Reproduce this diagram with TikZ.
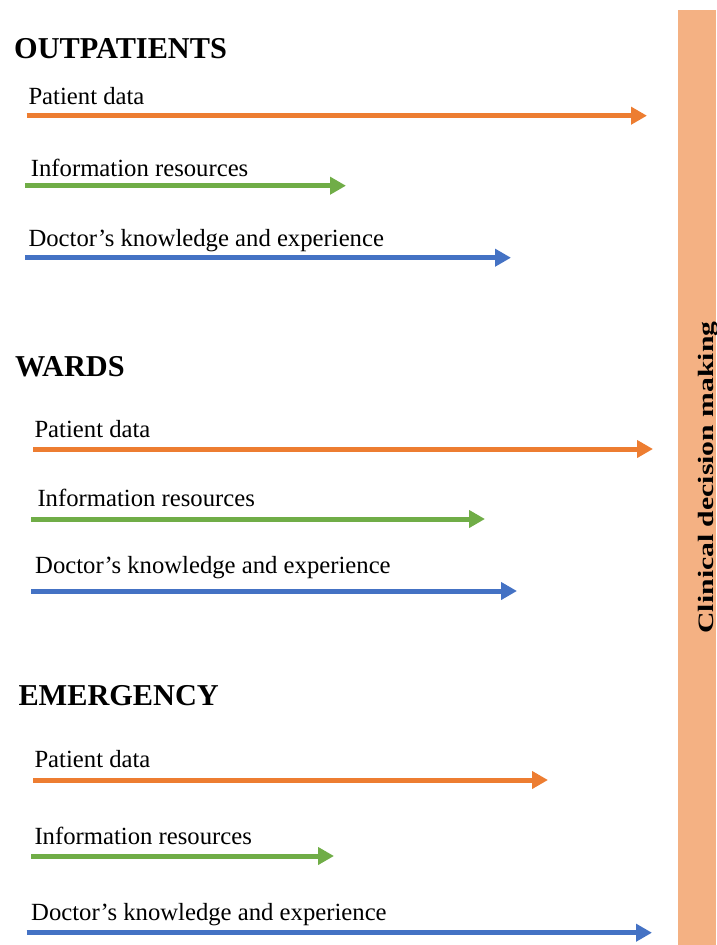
\documentclass[tikz,border=0pt]{standalone}
\usepackage{fontspec}
\setmainfont{Liberation Serif}
\usetikzlibrary{arrows.meta}
\definecolor{pdorange}{HTML}{ED7D31}
\definecolor{irgreen}{HTML}{70AD47}
\definecolor{dkblue}{HTML}{4472C4}
\definecolor{barfill}{HTML}{F4B183}
\tikzset{>={Triangle[length=16pt,width=17pt]}}

\begin{document}
\begin{tikzpicture}[x=1pt, y=-1pt,
    head/.style={anchor=base west, inner sep=0pt, font=\fontsize{30.3}{33}\selectfont\bfseries},
    lbl/.style={anchor=base west, inner sep=0pt, font=\fontsize{24.7}{28}\selectfont},
    flow/.style={line width=5pt, ->}]
    \useasboundingbox (0,0) rectangle (716,945);
    \fill[barfill] (678,10) rectangle (716,945);
    \node[anchor=base, rotate=90, inner sep=0pt,
        font=\fontsize{22}{24}\selectfont\bfseries] (cdm) at (713,477.5)
        {\scalebox{1.35}[1]{Clinical decision making}};

    % outpatients
    \node[head] (op) at (14,58.3) {OUTPATIENTS};
    \node[lbl] (op-pd) at (28.3,104) {Patient data};
    \node[lbl] (op-ir) at (30.7,176) {Information resources};
    \node[lbl] (op-dk) at (28.3,246.7) {Doctor’s knowledge and experience};
    \coordinate (op-pd-s) at (26.7,115.7);
    \coordinate (op-pd-e) at (647,115.7);
    \coordinate (op-ir-s) at (25,185.7);
    \coordinate (op-ir-e) at (346,185.7);
    \coordinate (op-dk-s) at (25,257.7);
    \coordinate (op-dk-e) at (511,257.7);
    \draw[flow, pdorange] (op-pd-s) -- (op-pd-e);
    \draw[flow, irgreen] (op-ir-s) -- (op-ir-e);
    \draw[flow, dkblue] (op-dk-s) -- (op-dk-e);

    % wards
    \node[head] (wd) at (15,376) {WARDS};
    \node[lbl] (wd-pd) at (34.3,437.3) {Patient data};
    \node[lbl] (wd-ir) at (37.3,506.7) {Information resources};
    \node[lbl] (wd-dk) at (35,573.3) {Doctor’s knowledge and experience};
    \coordinate (wd-pd-s) at (33.3,449);
    \coordinate (wd-pd-e) at (653,449);
    \coordinate (wd-ir-s) at (31,519);
    \coordinate (wd-ir-e) at (485,519);
    \coordinate (wd-dk-s) at (31,591);
    \coordinate (wd-dk-e) at (517,591);
    \draw[flow, pdorange] (wd-pd-s) -- (wd-pd-e);
    \draw[flow, irgreen] (wd-ir-s) -- (wd-ir-e);
    \draw[flow, dkblue] (wd-dk-s) -- (wd-dk-e);

    % emergency
    \node[head] (em) at (18.3,705.7) {EMERGENCY};
    \node[lbl] (em-pd) at (34.3,767.7) {Patient data};
    \node[lbl] (em-ir) at (34.3,844) {Information resources};
    \node[lbl] (em-dk) at (31,920) {Doctor’s knowledge and experience};
    \coordinate (em-pd-s) at (33.3,780);
    \coordinate (em-pd-e) at (548,780);
    \coordinate (em-ir-s) at (31,856);
    \coordinate (em-ir-e) at (334,856);
    \coordinate (em-dk-s) at (26.7,932.7);
    \coordinate (em-dk-e) at (652,932.7);
    \draw[flow, pdorange] (em-pd-s) -- (em-pd-e);
    \draw[flow, irgreen] (em-ir-s) -- (em-ir-e);
    \draw[flow, dkblue] (em-dk-s) -- (em-dk-e);
\end{tikzpicture}
\end{document}
